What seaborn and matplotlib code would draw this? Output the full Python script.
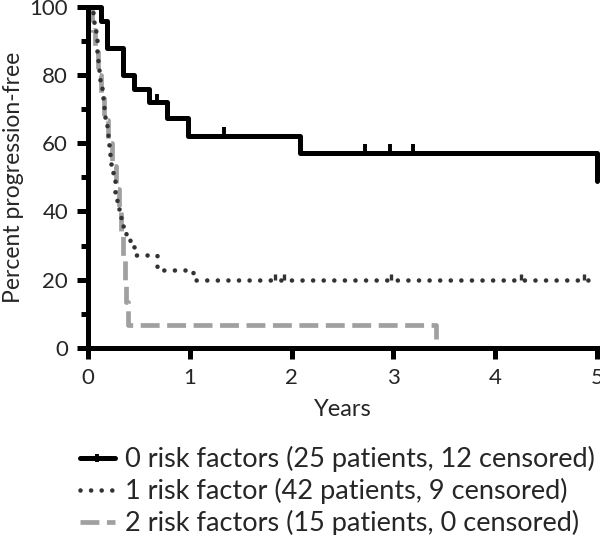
import numpy as np
import pandas as pd
import matplotlib
matplotlib.use('Agg')
import matplotlib.pyplot as plt
from matplotlib.lines import Line2D
from matplotlib.ticker import MultipleLocator
import seaborn as sns

# 0 risk factors
t0 = [0, 0.13, 0.18, 0.34, 0.45, 0.60, 0.77, 0.98, 2.08, 5.0]
s0 = [100, 96, 88, 80, 76, 72, 67.4, 62.2, 57.2, 48.8]
c0_t = [0.68, 1.33, 2.72, 2.97, 3.19]
c0_s = [72, 62.2, 57.2, 57.2, 57.2]

# 1 risk factor
t1 = [0, 0.05, 0.06, 0.07, 0.08, 0.085, 0.09, 0.10, 0.11, 0.12, 0.13, 0.14, 0.15,
      0.16, 0.17, 0.18, 0.19, 0.20, 0.21, 0.22, 0.24, 0.26, 0.28, 0.30, 0.32, 0.34,
      0.37, 0.41, 0.45, 0.68, 1.03, 4.98]
s1 = [100, 97.6, 95.2, 92.9, 90.5, 88.1, 85.7, 83.3, 81.0, 78.6, 76.2, 73.8, 71.4,
      69.0, 66.7, 64.3, 61.9, 57.1, 54.8, 52.4, 50.0, 45.2, 42.9, 40.5, 38.1, 35.7,
      33.3, 31.0, 27.3, 22.7, 20.0, 20.0]
c1_t = [1.84, 1.92, 2.98, 4.25, 4.87]
c1_s = [20, 20, 20, 20, 20]

# 2 risk factors
t2 = [0, 0.04, 0.07, 0.10, 0.13, 0.16, 0.19, 0.23, 0.27, 0.30, 0.32, 0.34, 0.36, 0.37, 0.39, 3.42]
s2 = [100, 93.3, 86.7, 80, 73.3, 66.7, 60, 53.3, 46.7, 40, 33.3, 26.7, 20, 13.3, 6.7, 0]

labels = ['0 risk factors (25 patients, 12 censored)',
          '1 risk factor (42 patients, 9 censored)',
          '2 risk factors (15 patients, 0 censored)']

sns.set_theme(style='ticks')
plt.rcParams['font.family'] = ['Lato', 'DejaVu Sans']

fig = plt.figure(figsize=(6, 5.35), dpi=100)
ax = fig.add_axes([0.147, 0.35, 0.848, 0.637])

black = '#000000'
dark = '#333333'
grey = '#a0a0a0'
dot_ls = (0, (0.01, 2.3))
dash_ls = (0, (4.0, 1.6))

df2 = pd.DataFrame({'t': t2, 's': s2})
sns.lineplot(data=df2, x='t', y='s', ax=ax, drawstyle='steps-post', estimator=None, sort=False,
             color=grey, linewidth=3.4, linestyle=dash_ls, clip_on=False, zorder=2)
df1 = pd.DataFrame({'t': t1, 's': s1})
sns.lineplot(data=df1, x='t', y='s', ax=ax, drawstyle='steps-post', estimator=None, sort=False,
             color=dark, linewidth=3.3, linestyle=dot_ls, dash_capstyle='round',
             clip_on=False, zorder=3)
df0 = pd.DataFrame({'t': t0, 's': s0})
sns.lineplot(data=df0, x='t', y='s', ax=ax, drawstyle='steps-post', estimator=None, sort=False,
             color=black, linewidth=3.6, clip_on=False, zorder=4)

ax.plot(c0_t, [v + 1.3 for v in c0_s], linestyle='none', marker='|', color=black,
        markersize=6, markeredgewidth=2.8, clip_on=False, zorder=4)
ax.plot(c1_t, [v + 0.8 for v in c1_s], linestyle='none', marker='|', color=dark,
        markersize=5, markeredgewidth=2.4, clip_on=False, zorder=3)

ax.set_xlim(0, 5)
ax.set_ylim(0, 100)
ax.xaxis.set_major_locator(MultipleLocator(1))
ax.yaxis.set_major_locator(MultipleLocator(20))
ax.yaxis.set_minor_locator(MultipleLocator(10))
sns.despine(ax=ax)
for sp in ['left', 'bottom']:
    ax.spines[sp].set_linewidth(3.6)
    ax.spines[sp].set_color('black')
ax.tick_params(axis='both', which='major', length=8, width=3.6, labelsize=16, color='black', pad=6.5)
ax.tick_params(axis='y', which='minor', length=5, width=3.6, color='black')
ax.set_xlabel('Years', fontsize=17, labelpad=8)
ax.set_ylabel('Percent progression-free', fontsize=16.5, labelpad=4)

handles = [
    Line2D([], [], color=black, linewidth=3.6, marker='|', markersize=6, markeredgewidth=2.8),
    Line2D([], [], color=dark, linewidth=3.3, linestyle=dot_ls, dash_capstyle='round'),
    Line2D([], [], color=grey, linewidth=3.4, linestyle=dash_ls),
]
fig.legend(handles, labels, loc='center left', bbox_to_anchor=(0.133, 0.082), frameon=False,
           fontsize=19.5, handlelength=1.3, handletextpad=0.37, labelspacing=0.22,
           borderpad=0, borderaxespad=0, bbox_transform=fig.transFigure)

fig.savefig('out.png', dpi=100)
